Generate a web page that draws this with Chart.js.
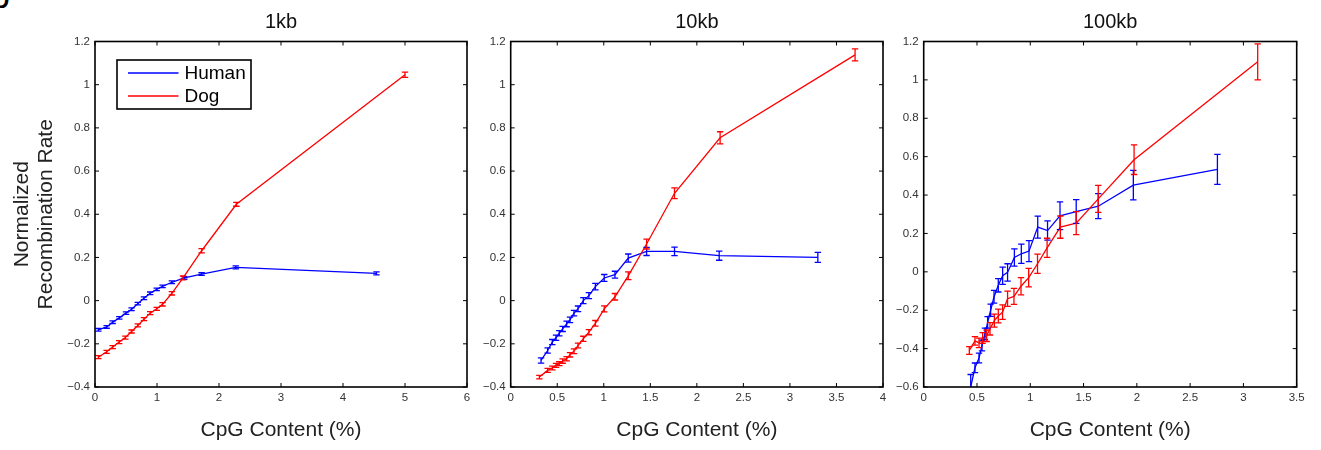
<!DOCTYPE html>
<html>
<head>
<meta charset="utf-8">
<script src="https://cdn.jsdelivr.net/npm/chart.js@4.4.1/dist/chart.umd.min.js"></script>
<style>
  body { margin: 0; width: 1321px; height: 450px; background: #fff; overflow: hidden; position: relative; }
  canvas { position: absolute; top: 0; }
  #c1 { left: 0; }
  #c2 { left: 480px; }
  #c3 { left: 895px; }
  #tag { position: absolute; left: -10px; top: -25px; font: 36px/1.149 "Liberation Sans", Arial, sans-serif; color: #000; }
</style>
</head>
<body>
<div id="tag">b</div>
<canvas id="c1" width="480" height="450"></canvas>
<canvas id="c2" width="415" height="450"></canvas>
<canvas id="c3" width="426" height="450"></canvas>
<script>
// ---- data ----
const panelTitles = ['1kb', '10kb', '100kb'];
const seriesNames = ['Human', 'Dog'];
const xTitle = 'CpG Content (%)';
const yTitle = ['Normalized', 'Recombination Rate'];

// x / y axis limits and steps per panel
const xMin = [0, 0, 0];
const xMax = [6, 4, 3.5];
const xStep = [1, 0.5, 0.5];
const yMin = [-0.4, -0.4, -0.6];
const yMax = [1.2, 1.2, 1.2];
const yStep = [0.2, 0.2, 0.2];

// 1kb
const human1kX = [0.054, 0.188, 0.285, 0.392, 0.50, 0.59, 0.69, 0.79, 0.89, 0.995, 1.09, 1.24, 1.44, 1.72, 2.27, 4.54];
const human1kY = [-0.135, -0.122, -0.100, -0.080, -0.058, -0.040, -0.014, 0.011, 0.034, 0.052, 0.066, 0.085, 0.105, 0.123, 0.154, 0.126];
const human1kErr = [0.006, 0.006, 0.006, 0.006, 0.006, 0.006, 0.006, 0.006, 0.006, 0.006, 0.006, 0.006, 0.006, 0.006, 0.007, 0.007];
const dog1kX = [0.054, 0.188, 0.285, 0.39, 0.49, 0.59, 0.69, 0.79, 0.89, 0.995, 1.09, 1.24, 1.42, 1.72, 2.28, 5.0];
const dog1kY = [-0.262, -0.237, -0.215, -0.192, -0.171, -0.143, -0.115, -0.086, -0.058, -0.038, -0.017, 0.034, 0.105, 0.231, 0.446, 1.046];
const dog1kErr = [0.007, 0.007, 0.007, 0.007, 0.007, 0.007, 0.007, 0.007, 0.007, 0.007, 0.008, 0.008, 0.009, 0.01, 0.009, 0.012];

// 10kb
const human10kX = [0.326, 0.397, 0.447, 0.487, 0.522, 0.558, 0.601, 0.637, 0.68, 0.723, 0.78, 0.84, 0.91, 1.005, 1.12, 1.263, 1.46, 1.76, 2.24, 3.30];
const human10kY = [-0.277, -0.231, -0.192, -0.172, -0.151, -0.131, -0.108, -0.089, -0.058, -0.038, 0.0, 0.023, 0.065, 0.105, 0.12, 0.197, 0.228, 0.228, 0.208, 0.20];
const human10kErr = [0.012, 0.012, 0.012, 0.012, 0.012, 0.012, 0.013, 0.013, 0.013, 0.013, 0.014, 0.014, 0.015, 0.016, 0.016, 0.019, 0.019, 0.02, 0.021, 0.023];
const dog10kX = [0.308, 0.397, 0.447, 0.487, 0.522, 0.558, 0.601, 0.637, 0.68, 0.723, 0.78, 0.84, 0.91, 1.005, 1.12, 1.263, 1.46, 1.76, 2.25, 3.70];
const dog10kY = [-0.354, -0.323, -0.312, -0.30, -0.292, -0.28, -0.269, -0.251, -0.234, -0.208, -0.177, -0.146, -0.105, -0.038, 0.018, 0.115, 0.262, 0.497, 0.754, 1.138];
const dog10kErr = [0.008, 0.009, 0.009, 0.009, 0.009, 0.01, 0.01, 0.01, 0.011, 0.011, 0.012, 0.012, 0.013, 0.014, 0.015, 0.018, 0.023, 0.025, 0.028, 0.028];

// 100kb
const human100kX = [0.441, 0.481, 0.519, 0.547, 0.575, 0.60, 0.628, 0.66, 0.70, 0.741, 0.787, 0.851, 0.916, 0.988, 1.07, 1.162, 1.279, 1.431, 1.638, 1.967, 2.756];
const human100kY = [-0.60, -0.50, -0.449, -0.384, -0.323, -0.263, -0.20, -0.13, -0.07, -0.02, -0.003, 0.075, 0.094, 0.108, 0.233, 0.215, 0.292, 0.314, 0.342, 0.452, 0.534];
const human100kErr = [0.065, 0.025, 0.025, 0.028, 0.03, 0.03, 0.032, 0.033, 0.035, 0.045, 0.045, 0.045, 0.05, 0.055, 0.057, 0.05, 0.072, 0.062, 0.065, 0.077, 0.078];
const dog100kX = [0.428, 0.481, 0.519, 0.553, 0.591, 0.622, 0.663, 0.70, 0.74, 0.787, 0.847, 0.913, 0.985, 1.068, 1.158, 1.282, 1.431, 1.638, 1.974, 3.134];
const dog100kY = [-0.41, -0.36, -0.37, -0.345, -0.333, -0.297, -0.254, -0.23, -0.21, -0.14, -0.128, -0.075, -0.03, 0.042, 0.125, 0.233, 0.254, 0.38, 0.584, 1.094];
const dog100kErr = [0.02, 0.022, 0.025, 0.028, 0.03, 0.032, 0.034, 0.036, 0.038, 0.04, 0.042, 0.045, 0.048, 0.05, 0.05, 0.058, 0.06, 0.07, 0.077, 0.094];

const humanColor = '#0000ff';
const dogColor = '#ff0000';
const fontFam = '"Liberation Sans", Arial, Helvetica, sans-serif';

function toPoints(xs, ys) {
  return xs.map((x, i) => ({ x: x, y: ys[i] }));
}

function fmtTick(v) {
  return String(Math.round(v * 100) / 100).replace('-', '\u2212');
}

// frame, inward ticks, error bars, panel title and the boxed legend
const matlabLook = {
  id: 'matlabLook',
  afterDatasetsDraw(chart) {
    const ctx = chart.ctx;
    const a = chart.chartArea;
    const ys = chart.scales.y;
    ctx.save();
    ctx.beginPath();
    ctx.rect(a.left, a.top, a.right - a.left, a.bottom - a.top);
    ctx.clip();
    chart.data.datasets.forEach((ds, i) => {
      const meta = chart.getDatasetMeta(i);
      ctx.strokeStyle = ds.borderColor;
      ctx.lineWidth = 1.3;
      meta.data.forEach((pt, j) => {
        const v = ds.data[j].y;
        const e = ds.errors[j];
        const y1 = ys.getPixelForValue(v - e);
        const y2 = ys.getPixelForValue(v + e);
        const cap = 3.2;
        ctx.beginPath();
        ctx.moveTo(pt.x, y1); ctx.lineTo(pt.x, y2);
        ctx.moveTo(pt.x - cap, y1); ctx.lineTo(pt.x + cap, y1);
        ctx.moveTo(pt.x - cap, y2); ctx.lineTo(pt.x + cap, y2);
        ctx.stroke();
      });
    });
    ctx.restore();
  },
  afterDraw(chart, args, opts) {
    const ctx = chart.ctx;
    const a = chart.chartArea;
    ctx.save();
    // inward tick marks on all four sides
    ctx.strokeStyle = '#000';
    ctx.lineWidth = 1;
    const tl = 4;
    chart.scales.x.ticks.forEach(t => {
      const px = chart.scales.x.getPixelForValue(t.value);
      ctx.beginPath();
      ctx.moveTo(px, a.bottom); ctx.lineTo(px, a.bottom - tl);
      ctx.moveTo(px, a.top); ctx.lineTo(px, a.top + tl);
      ctx.stroke();
    });
    chart.scales.y.ticks.forEach(t => {
      const py = chart.scales.y.getPixelForValue(t.value);
      ctx.beginPath();
      ctx.moveTo(a.left, py); ctx.lineTo(a.left + tl, py);
      ctx.moveTo(a.right, py); ctx.lineTo(a.right - tl, py);
      ctx.stroke();
    });
    // box
    ctx.lineWidth = 1.6;
    ctx.strokeRect(a.left, a.top, a.right - a.left, a.bottom - a.top);
    // panel title
    ctx.fillStyle = '#111';
    ctx.font = '20px ' + fontFam;
    ctx.textAlign = 'center';
    ctx.textBaseline = 'middle';
    ctx.fillText(opts.title, (a.left + a.right) / 2, 22);
    // legend box (first panel only)
    if (opts.legend) {
      const bx = a.left + 22, by = a.top + 18.5, bw = 134, bh = 49;
      ctx.fillStyle = '#fff';
      ctx.fillRect(bx, by, bw, bh);
      ctx.lineWidth = 1.6;
      ctx.strokeStyle = '#000';
      ctx.strokeRect(bx, by, bw, bh);
      ctx.font = '19px ' + fontFam;
      ctx.textAlign = 'left';
      const cols = [humanColor, dogColor];
      seriesNames.forEach((name, i) => {
        const ly = by + 13 + i * 23;
        ctx.strokeStyle = cols[i];
        ctx.lineWidth = 1.3;
        ctx.beginPath();
        ctx.moveTo(bx + 11, ly); ctx.lineTo(bx + 61.5, ly);
        ctx.stroke();
        ctx.fillStyle = '#000';
        ctx.fillText(name, bx + 67.5, ly + 1);
      });
    }
    ctx.restore();
  }
};

function makePanel(canvasId, k, hx, hy, he, dx, dy, de, yWidth, padRight, withYTitle) {
  const tickFont = { size: 11.5, family: fontFam };
  new Chart(document.getElementById(canvasId), {
    type: 'line',
    data: {
      datasets: [
        { label: seriesNames[0], data: toPoints(hx, hy), errors: he, borderColor: humanColor, borderWidth: 1.3, pointRadius: 0, fill: false, tension: 0, order: 1 },
        { label: seriesNames[1], data: toPoints(dx, dy), errors: de, borderColor: dogColor, borderWidth: 1.3, pointRadius: 0, fill: false, tension: 0, order: 0 }
      ]
    },
    options: {
      responsive: false,
      animation: false,
      layout: { padding: { top: 41.5, right: padRight, bottom: 0, left: 0 } },
      plugins: {
        legend: { display: false },
        tooltip: { enabled: false },
        title: { display: false },
        matlabLook: { title: panelTitles[k], legend: withYTitle }
      },
      scales: {
        x: {
          type: 'linear',
          min: xMin[k], max: xMax[k],
          grid: { display: false, drawTicks: false },
          border: { display: false },
          ticks: { stepSize: xStep[k], padding: 4, color: '#333', font: tickFont, callback: fmtTick, maxRotation: 0, autoSkip: false },
          title: { display: true, text: xTitle, color: '#222', font: { size: 21, family: fontFam }, padding: { top: 0, bottom: 7 } },
          afterFit: s => { s.height = 63; }
        },
        y: {
          type: 'linear',
          min: yMin[k], max: yMax[k],
          grid: { display: false, drawTicks: false },
          border: { display: false },
          ticks: { stepSize: yStep[k], padding: 5, color: '#333', font: tickFont, callback: fmtTick, autoSkip: false },
          title: { display: withYTitle, text: yTitle, color: '#222', font: { size: 21, family: fontFam, lineHeight: 1.15 }, padding: { top: 10, bottom: 0 } },
          afterFit: s => { s.width = yWidth; }
        }
      }
    },
    plugins: [matlabLook]
  });
}

makePanel('c1', 0, human1kX, human1kY, human1kErr, dog1kX, dog1kY, dog1kErr, 95, 13, true);
makePanel('c2', 1, human10kX, human10kY, human10kErr, dog10kX, dog10kY, dog10kErr, 30.7, 12, false);
makePanel('c3', 2, human100kX, human100kY, human100kErr, dog100kX, dog100kY, dog100kErr, 28.7, 24.3, false);
</script>
</body>
</html>
